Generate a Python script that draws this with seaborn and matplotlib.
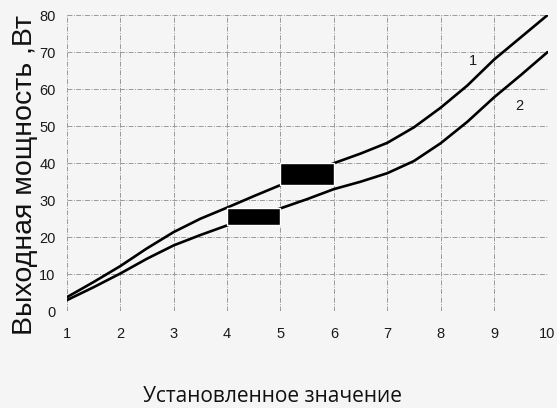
import numpy as np
import matplotlib
matplotlib.use("Agg")
import matplotlib.pyplot as plt
import seaborn as sns

# setting value (x axis)
setting = [1, 1.5, 2, 2.5, 3, 3.5, 4, 4.5, 5, 5.5, 6, 6.5, 7, 7.5, 8, 8.5, 9, 9.5, 10]
# output power, curve 1 (upper) and curve 2 (lower), W
power_1 = [3.8, 7.9, 12.2, 17.0, 21.4, 25.0, 28.0, 31.1, 34.1, 37.0, 40.0, 42.6, 45.5, 49.7, 55.0, 61.0, 68.0, 74.0, 80.0]
power_2 = [3.0, 6.5, 10.2, 14.2, 17.8, 20.6, 23.2, 25.5, 27.8, 30.3, 33.0, 35.0, 37.3, 40.6, 45.4, 51.2, 57.8, 63.8, 70.0]

# black blocks: (left x, bottom, top)
block_left = [4, 5]
block_bottom = [23.2, 34.2]
block_top = [27.8, 40.0]

curve_labels = ["1", "2"]
label_x = [8.6, 9.48]
label_y = [67.5, 55.5]

sns.set_style("white")
plt.rcParams["font.family"] = ["Liberation Sans", "DejaVu Sans"]

fig, ax = plt.subplots(figsize=(5.57, 4.08), dpi=100)
fig.patch.set_facecolor("#f5f5f5")
ax.set_facecolor("#f5f5f5")

sns.lineplot(x=setting, y=power_1, ax=ax, color="black", linewidth=1.9)
sns.lineplot(x=setting, y=power_2, ax=ax, color="black", linewidth=1.9)

ax.bar(block_left, np.subtract(block_top, block_bottom), bottom=block_bottom,
       width=1, align="edge", color="black", zorder=3)

for t, xx, yy in zip(curve_labels, label_x, label_y):
    ax.text(xx, yy, t, fontsize=10.5, ha="center", va="center", color="#1a1a1a")

ax.set_xlim(1, 10)
ax.set_ylim(0, 80)
ax.set_xticks(range(1, 11))
ax.set_yticks(range(0, 81, 10))
ax.grid(True, color="#9a9a9a", linestyle=(0, (5, 1.5, 1, 1.5)), linewidth=0.7)
for s in ax.spines.values():
    s.set_visible(False)
ax.tick_params(axis="both", labelsize=10.5, length=0, colors="#1a1a1a")
ax.tick_params(axis="x", pad=11)
ax.tick_params(axis="y", pad=8)

ax.set_ylabel("Выходная мощность ,Вт", fontsize=20.5, color="#111111")
ax.yaxis.set_label_coords(-0.06, 0.46)
ax.set_xlabel("Установленное значение", fontsize=15,
              family=["Open Sans", "DejaVu Sans"], color="#111111")
ax.xaxis.set_label_coords(0.427, -0.252)

fig.subplots_adjust(left=0.12, right=0.983, top=0.963, bottom=0.237)
fig.savefig("out.png", dpi=100, facecolor=fig.get_facecolor())
